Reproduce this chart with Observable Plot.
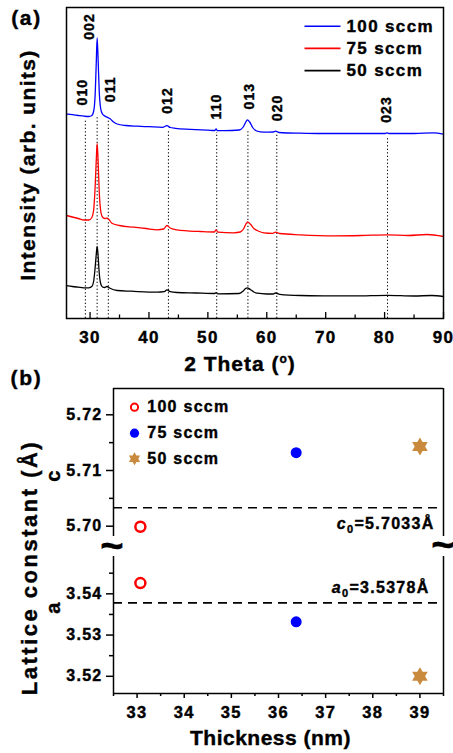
<!DOCTYPE html>
<html><head><meta charset="utf-8">
<script src="https://cdn.jsdelivr.net/npm/d3@7"></script>
<script src="https://cdn.jsdelivr.net/npm/@observablehq/plot@0.6"></script>
<style>
body{margin:0;background:#fff;}
#fig{position:relative;width:453px;height:753px;background:#fff;}
#fig svg{position:absolute;left:0;overflow:visible;}
#fig text{letter-spacing:0.08em;font-weight:bold;stroke:#000;stroke-width:0.4px;}
</style></head><body><div id="fig"></div>
<script>
// ---------- Panel (a): XRD patterns (2θ, intensity in arb. units) ----------
const series100 = [[26,204.5],[27,203.8],[28,203],[29,202.3],[29.8,202],[30.3,203],[30.6,207],[30.85,222],[31.05,255],[31.2,280.5],[31.35,262],[31.55,228],[31.8,210],[32.1,204.5],[32.5,202.5],[32.9,201.3],[33.4,199.7],[34,196.5],[34.6,194.5],[36,193],[38,192.3],[40,191.8],[42.3,191.2],[43.05,192.8],[43.6,191],[44.5,190.2],[47,189.2],[50,188.3],[51.2,188],[51.4,189.5],[51.6,187.8],[54,188],[55.3,188.5],[56,191.5],[56.4,196],[56.7,198.7],[57.1,196.5],[57.6,191],[58.3,187.5],[59.5,186.3],[61.1,186.5],[61.5,187.3],[62.1,186],[63.5,185.5],[65.7,185.3],[70,185],[75,185],[80.1,185],[80.4,185.6],[80.7,185],[85,185],[88.3,185.7],[90,184.3]];
const series75 = [[26,103],[27,101.5],[28,100],[29,98.5],[29.8,98.5],[30.3,101],[30.6,108],[30.85,130],[31.05,158],[31.2,175],[31.35,160],[31.55,128],[31.8,108],[32.1,101.5],[32.5,100],[32.85,100.3],[33.2,99],[33.7,95.3],[35,93],[37.4,91.3],[39.5,90],[41.4,88.7],[42.5,89.5],[43.05,93],[43.6,90.5],[44.75,88.7],[46.5,87.7],[48.7,87],[51.1,86.5],[51.4,88.7],[51.7,86.3],[54.4,85.7],[55.5,86.5],[56.1,90],[56.5,95],[56.75,96.7],[57.2,94.5],[57.8,90],[58.35,88],[59.5,85.7],[61.0,85.2],[61.46,86.3],[62.2,85],[65.7,83.7],[71.4,82.7],[76,83],[80.4,83.7],[84,83],[87.2,84],[90,82]];
const series50 = [[26,33],[27,32],[28,31.3],[28.9,30.7],[29.8,30.7],[30.3,32],[30.6,37],[30.85,50],[31.05,64],[31.2,72],[31.35,64],[31.55,46],[31.8,35],[32.1,31.5],[32.5,31],[32.85,32],[33.3,30.5],[34.6,28],[37,27.3],[41.4,26.3],[42.6,26.8],[43.05,28.7],[43.6,26.8],[44.75,26],[48,25.5],[51.1,25],[51.4,25.8],[51.7,24.7],[55.3,25],[56,27.5],[56.4,30],[56.7,30.7],[57.2,29],[57.8,26.5],[58.35,25.3],[60,24.5],[61.1,24.5],[61.46,25.5],[62.2,24.2],[65.7,23],[70,22.7],[75,22.6],[80.4,23.2],[85,22.5],[88,23],[90,22]];
const seriesNamesA = ["100 sccm", "75 sccm", "50 sccm"];
const seriesColorsA = ["#0000ff", "#ff0000", "#000000"];

// reflections: Miller indices, peak position, top of the guide line, label anchor (data space)
const hkl = ["010","002","011","012","110","013","020","023"];
const peakTheta = [29.2, 31.2, 33.1, 43.3, 51.5, 56.8, 61.7, 80.5];
const guideTop = [198, 203, 198, 188, 186, 187, 185, 181];
const labelTheta = [28.77, 29.9, 33.4, 43.2, 51.4, 57.1, 61.85, 80.3];
const labelBase = [213, 278.7, 216.3, 204.7, 199, 209, 197.3, 195.7];
const xMajorA = [30, 40, 50, 60, 70, 80, 90];
const xMinorA = [35, 45, 55, 65, 75, 85];

// ---------- Panel (b): lattice constants ----------
const seriesNamesB = ["100 sccm", "75 sccm", "50 sccm"];
const thickness = [33.07, 36.375, 39.0];
const latticeC = [5.6999, 5.7132, 5.7143];
const latticeA = [3.5426, 3.5332, 3.5200];
const c0 = 5.7033, a0 = 3.5378;
const cTicks = [5.70, 5.71, 5.72], cMinor = [5.705, 5.715];
const aTicks = [3.52, 3.53, 3.54], aMinor = [3.525, 3.535, 3.545];
const tTicks = [33, 34, 35, 36, 37, 38, 39];
const tMinor = [32.5, 33.5, 34.5, 35.5, 36.5, 37.5, 38.5, 39.5];

const peaks = hkl.map((h, i) => ({hkl: h, theta: peakTheta[i], top: guideTop[i], lx: labelTheta[i], ly: labelBase[i]}));
const ptsB = seriesNamesB.map((s, i) => ({s, t: thickness[i], c: latticeC[i], a: latticeA[i]}));

const FONT = '"Liberation Sans", Arial, sans-serif';
const st = {fontFamily: FONT, fontWeight: "bold", background: "none", overflow: "visible", color: "black"};
const BROWN = "#c98a3e";
const M = {x: null, y: null, textAnchor: "middle", lineAnchor: "middle"};

const hexStar = {draw(ctx, size) {
  const R = Math.sqrt(size / Math.PI), r = R * 0.58;
  for (let i = 0; i < 12; i++) {
    const ang = -Math.PI / 2 + i * Math.PI / 6, rr = i % 2 ? r : R;
    const x = rr * Math.cos(ang), y = rr * Math.sin(ang);
    if (i) ctx.lineTo(x, y); else ctx.moveTo(x, y);
  }
  ctx.closePath();
}};
const hline = {draw(ctx, size) {
  const R = Math.sqrt(size / Math.PI);
  ctx.moveTo(-R, 0); ctx.lineTo(R, 0);
}};

const xyA = {x: d => d[0], y: d => d[1], curve: "monotone-x", strokeWidth: 1.3};

const plotA = Plot.plot({
  width: 453, height: 375, marginLeft: 66, marginRight: 10, marginTop: 7, marginBottom: 57,
  style: st,
  x: {domain: [26, 90], axis: null},
  y: {domain: [0, 311], axis: null},
  marks: [
    Plot.ruleX(peaks, {x: "theta", y1: 0, y2: "top", stroke: "black", strokeWidth: 1, strokeDasharray: "1.3,2.2"}),
    Plot.line(series50, {...xyA, stroke: seriesColorsA[2]}),
    Plot.line(series75, {...xyA, stroke: seriesColorsA[1]}),
    Plot.line(series100, {...xyA, stroke: seriesColorsA[0]}),
    Plot.text(peaks, {x: "lx", y: "ly", text: "hkl", rotate: -90, textAnchor: "start", lineAnchor: "middle", fontSize: 14}),
    Plot.ruleX(xMajorA, {x: d => d, y1: 0, y2: 6, strokeWidth: 1.3}),
    Plot.ruleX(xMinorA, {x: d => d, y1: 0, y2: 3.5, strokeWidth: 1.3}),
    Plot.axisX({ticks: xMajorA, tickSize: 0, tickPadding: 12, fontSize: 17, label: null}),
    Plot.frame({strokeWidth: 1.5}),
    ...seriesNamesA.map((s, i) => Plot.dot([s], {x: null, y: null, frameAnchor: "top-right", dx: -121, dy: 18.7 + i * 22.2, symbol: hline, r: 18, stroke: seriesColorsA[i], strokeWidth: 1.6, fill: "none"})),
    ...seriesNamesA.map((s, i) => Plot.text([s], {...M, frameAnchor: "top-right", dx: -97, dy: 18.7 + i * 22.2, textAnchor: "start", fontSize: 17})),
    Plot.text(["Intensity (arb. units)"], {...M, frameAnchor: "left", dx: -38, dy: 2, rotate: -90, fontSize: 21}),
    Plot.text(["2 Theta (°)"], {...M, frameAnchor: "bottom", dx: -15, dy: 52, lineAnchor: "bottom", fontSize: 21}),
    Plot.text(["(a)"], {...M, frameAnchor: "top-left", dx: -40, dy: 11, fontSize: 21})
  ]
});

const cTop = 5.72472, cBot = 5.69815;
const plotBU = Plot.plot({
  width: 453, height: 160, marginLeft: 113, marginRight: 10, marginTop: 8, marginBottom: 4,
  style: st,
  x: {domain: [32.5, 39.5], axis: null},
  y: {domain: [cBot, cTop], axis: null},
  marks: [
    Plot.ruleY([c0], {strokeDasharray: "9,6", strokeWidth: 1.6}),
    Plot.ruleX([32.5, 39.5], {strokeWidth: 1.5}),
    Plot.ruleY([cTop], {strokeWidth: 1.5}),
    Plot.axisY({ticks: cTicks, tickSize: 7, tickPadding: 4, fontSize: 16, tickFormat: d3.format(".2f"), label: null, strokeWidth: 1.5}),
    Plot.axisY({ticks: cMinor, tickSize: 4, tickFormat: () => "", label: null, strokeWidth: 1.5}),
    Plot.dot(ptsB.slice(0, 1), {x: "t", y: "c", r: 5, stroke: "#ff0000", strokeWidth: 2.5, fill: "white"}),
    Plot.dot(ptsB.slice(1, 2), {x: "t", y: "c", r: 5.5, fill: "#0000ff"}),
    Plot.dot(ptsB.slice(2, 3), {x: "t", y: "c", r: 9, symbol: hexStar, fill: BROWN, stroke: "none"}),
    Plot.dot([0], {x: null, y: null, frameAnchor: "top-left", dx: 21, dy: 18.7, r: 3.6, stroke: "#ff0000", strokeWidth: 2, fill: "white"}),
    Plot.dot([0], {x: null, y: null, frameAnchor: "top-left", dx: 21, dy: 44.7, r: 4.6, fill: "#0000ff"}),
    Plot.dot([0], {x: null, y: null, frameAnchor: "top-left", dx: 21, dy: 70.3, r: 6.5, symbol: hexStar, fill: BROWN, stroke: "none"}),
    ...seriesNamesB.map((s, i) => Plot.text([s], {...M, frameAnchor: "top-left", dx: 33.7, dy: [18.7, 44.7, 70.3][i], textAnchor: "start", fontSize: 16})),
    Plot.text(["c"], {...M, frameAnchor: "left", dx: -60, dy: 13, rotate: -90, fontSize: 20}),
    Plot.text(["c0=5.7033Å"], {...M, frameAnchor: "bottom-right", dx: -9, dy: -8, textAnchor: "end", lineAnchor: "bottom", fontSize: 16}),
    Plot.text(["~"], {...M, frameAnchor: "bottom-left", dy: 10, fontSize: 40}),
    Plot.text(["~"], {...M, frameAnchor: "bottom-right", dx: 1, dy: 9, fontSize: 40}),
    Plot.text(["(b)"], {...M, frameAnchor: "top-left", dx: -87, dy: -10, fontSize: 21})
  ]
});

const aTop = 3.54905, aBot = 3.51583;
const plotBL = Plot.plot({
  width: 453, height: 205, marginLeft: 113, marginRight: 10, marginTop: 8, marginBottom: 60,
  style: st,
  x: {domain: [32.5, 39.5], axis: null},
  y: {domain: [aBot, aTop], axis: null},
  marks: [
    Plot.ruleY([a0], {strokeDasharray: "9,6", strokeWidth: 1.6}),
    Plot.ruleX([32.5, 39.5], {strokeWidth: 1.5}),
    Plot.ruleY([aBot], {strokeWidth: 1.5}),
    Plot.axisY({ticks: aTicks, tickSize: 7, tickPadding: 4, fontSize: 16, tickFormat: d3.format(".2f"), label: null, strokeWidth: 1.5}),
    Plot.axisY({ticks: aMinor, tickSize: 4, tickFormat: () => "", label: null, strokeWidth: 1.5}),
    Plot.axisX({ticks: tTicks, tickSize: 5, tickPadding: 8, fontSize: 16.5, tickFormat: d => String(d), label: null, strokeWidth: 1.5}),
    Plot.axisX({ticks: tMinor, tickSize: 3, tickFormat: () => "", label: null, strokeWidth: 1.5}),
    Plot.dot(ptsB.slice(0, 1), {x: "t", y: "a", r: 5, stroke: "#ff0000", strokeWidth: 2.5, fill: "white"}),
    Plot.dot(ptsB.slice(1, 2), {x: "t", y: "a", r: 5.5, fill: "#0000ff"}),
    Plot.dot(ptsB.slice(2, 3), {x: "t", y: "a", r: 9, symbol: hexStar, fill: BROWN, stroke: "none"}),
    Plot.text(["a"], {...M, frameAnchor: "left", dx: -60, dy: -17.5, rotate: -90, fontSize: 20}),
    Plot.text(["a0=3.5378Å"], {...M, frameAnchor: "top-right", dx: -14, dy: 36.3, textAnchor: "end", lineAnchor: "bottom", fontSize: 16}),
    Plot.text(["Lattice constant (Å)"], {...M, frameAnchor: "left", dx: -84, dy: -57.5, rotate: -90, fontSize: 22}),
    Plot.text(["Thickness (nm)"], {...M, frameAnchor: "bottom", dx: -8, dy: 51, lineAnchor: "bottom", fontSize: 21})
  ]
});

const fig = document.getElementById("fig");
function place(svg, top) { svg.style.position = "absolute"; svg.style.left = "0px"; svg.style.top = top + "px"; fig.appendChild(svg); }
place(plotA, 0); place(plotBU, 380); place(plotBL, 548);

function rich(key, parts, spacing) {
  d3.select(fig).selectAll("text").filter(function () { return this.textContent === key; }).each(function () {
    const t = d3.select(this);
    if (parts) {
      t.text(null);
      for (const p of parts) {
        const s = t.append("tspan").text(p.t);
        if (p.italic) s.attr("font-style", "italic");
        if (p.size) s.attr("font-size", p.size);
        if (p.dy) s.attr("dy", p.dy);
      }
    }
    if (spacing != null) t.style("letter-spacing", spacing);
  });
}
rich("2 Theta (°)", [{t: "2 Theta ("}, {t: "o", size: 12, dy: -8}, {t: ")", dy: 8}], "1px");
rich("c0=5.7033Å", [{t: "c", italic: true}, {t: "0", size: 11, dy: 4}, {t: "=5.7033Å", dy: -4}]);
rich("a0=3.5378Å", [{t: "a", italic: true}, {t: "0", size: 11, dy: 4}, {t: "=3.5378Å", dy: -4}]);
rich("Lattice constant (Å)", null, "2.5px");
rich("Thickness (nm)", null, "0.5px");
rich("Intensity (arb. units)", null, "1.4px");
</script></body></html>
